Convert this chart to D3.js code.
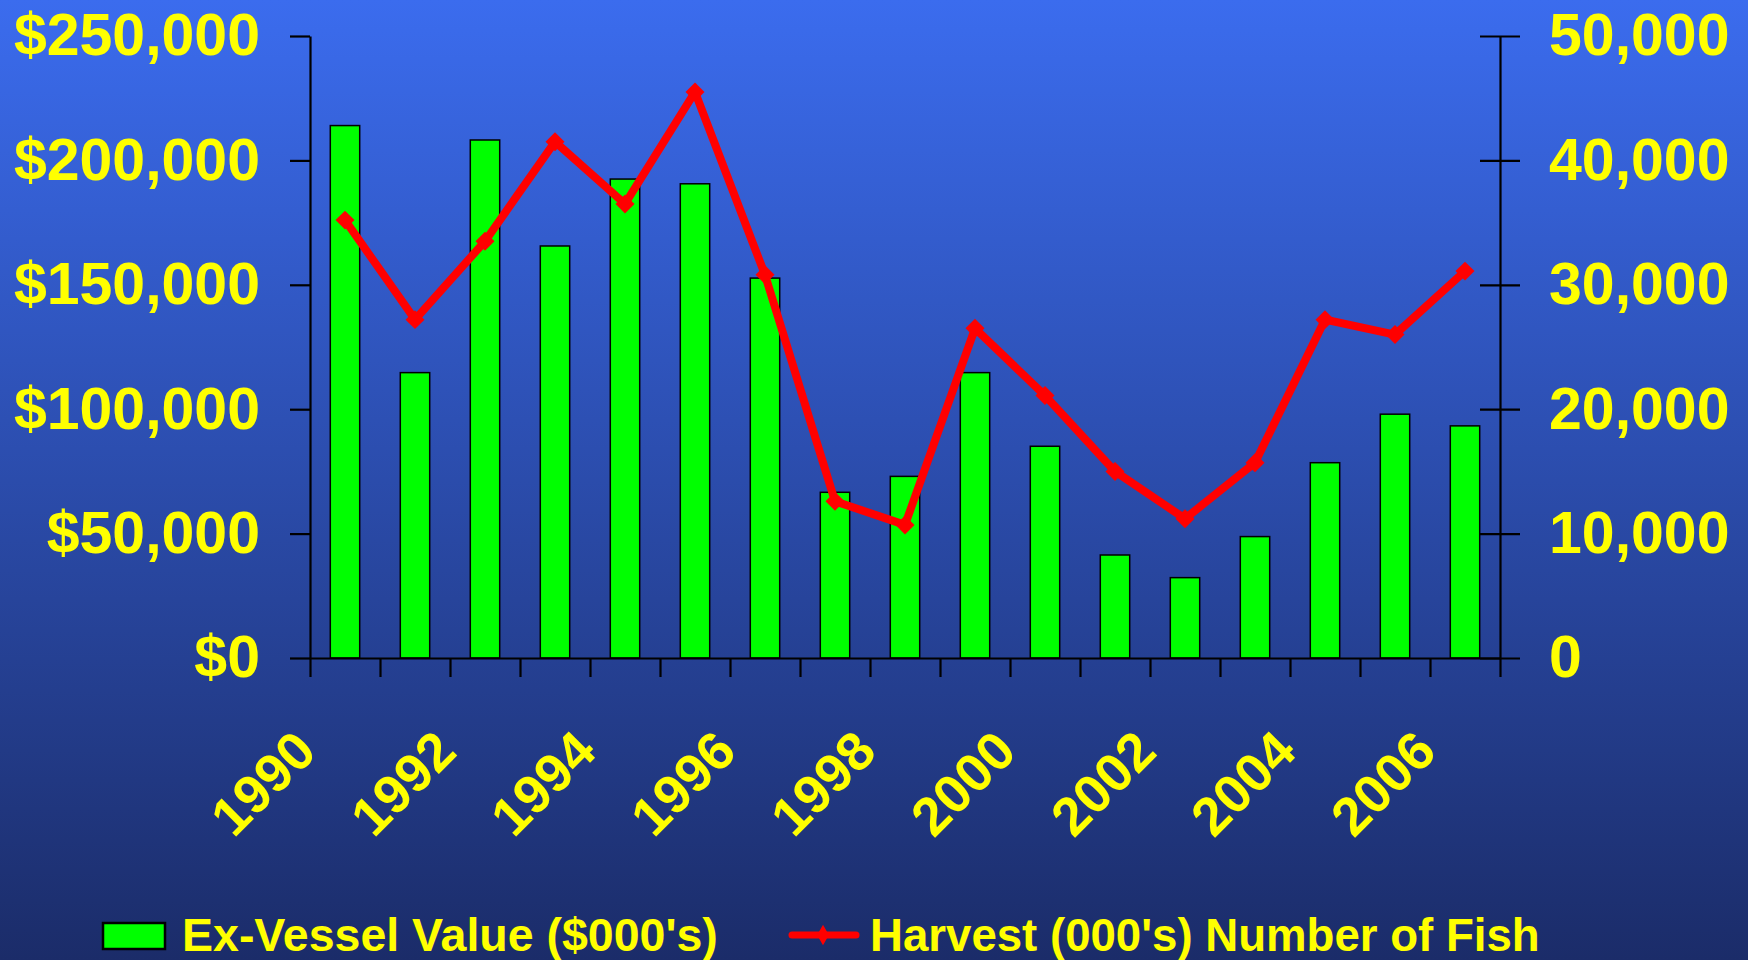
<!DOCTYPE html>
<html>
<head>
<meta charset="utf-8">
<script src="https://cdn.jsdelivr.net/npm/d3@7"></script>
<style>
  body { margin: 0; }
  text { font-family: "Liberation Sans", Arial, sans-serif; font-weight: bold; fill: #ffff00; }
</style>
</head>
<body>
<div id="chart-area"></div>
<script>
const years = ["1990", "1991", "1992", "1993", "1994", "1995", "1996", "1997", "1998",
  "1999", "2000", "2001", "2002", "2003", "2004", "2005", "2006"]
// Ex-Vessel Value ($000's)
const exVessel = [214000, 114700, 208200, 165600, 192500, 190600, 152700, 66600, 73000,
  114700, 85100, 41400, 32300, 48800, 78500, 98000, 93300]
// Harvest (000's) Number of Fish
const harvest = [35200, 27200, 33500, 41500, 36500, 45500, 30800, 12600, 10700,
  26500, 21100, 15000, 11200, 15700, 27200, 26000, 31100]
const yearLabels = ["1990", "1992", "1994", "1996", "1998", "2000", "2002", "2004", "2006"]
const leftTicks = [0, 50000, 100000, 150000, 200000, 250000]
const rightTicks = [0, 10000, 20000, 30000, 40000, 50000]

const W = 1748, H = 960
const PLOT = { LEFT: 310, RIGHT: 1500, TOP: 36, BOTTOM: 658 }

const svg = d3.select("#chart-area").append("svg")
  .attr("width", W)
  .attr("height", H)

// background gradient
const grad = svg.append("defs").append("linearGradient")
  .attr("id", "bg")
  .attr("x1", 0).attr("y1", 0).attr("x2", 0).attr("y2", 1)
grad.append("stop").attr("offset", "0%").attr("stop-color", "#3b6cee")
grad.append("stop").attr("offset", "100%").attr("stop-color", "#1b2c69")

svg.append("rect")
  .attr("width", W)
  .attr("height", H)
  .attr("fill", "url(#bg)")

const x = d3.scaleBand()
  .domain(years)
  .range([PLOT.LEFT, PLOT.RIGHT])
  .paddingInner(0.58)
  .paddingOuter(0.29)

// band edges for the category tick marks
const xEdge = d3.scaleLinear()
  .domain([0, years.length])
  .range([PLOT.LEFT, PLOT.RIGHT])

const yLeft = d3.scaleLinear()
  .domain([0, 250000])
  .range([PLOT.BOTTOM, PLOT.TOP])

const yRight = d3.scaleLinear()
  .domain([0, 50000])
  .range([PLOT.BOTTOM, PLOT.TOP])

// bars
svg.append("g").selectAll("rect")
  .data(years)
  .enter().append("rect")
    .attr("x", d => x(d))
    .attr("y", (d, i) => yLeft(exVessel[i]))
    .attr("width", x.bandwidth())
    .attr("height", (d, i) => PLOT.BOTTOM - yLeft(exVessel[i]))
    .attr("fill", "#00ff00")
    .attr("stroke", "#000")
    .attr("stroke-width", 1.5)

// x axis: ticks at band edges
svg.append("g")
  .attr("transform", `translate(0, ${PLOT.BOTTOM})`)
  .call(d3.axisBottom(xEdge)
    .tickValues(d3.range(years.length + 1))
    .tickSize(19)
    .tickSizeOuter(0)
    .tickFormat(""))
  .call(g => g.selectAll("line, path").attr("stroke", "#000").attr("stroke-width", 2.2))

// x labels, every other year, rotated
svg.append("g")
  .attr("transform", `translate(${x.bandwidth() / 2}, ${PLOT.BOTTOM})`)
  .call(d3.axisBottom(x).tickValues(yearLabels).tickSize(0))
  .call(g => g.select(".domain").remove())
  .selectAll("text")
    .attr("x", 0)
    .attr("y", 0)
    .attr("dy", 0)
    .attr("font-size", "54px")
    .attr("font-family", null)
    .attr("fill", "#ffff00")
    .attr("text-anchor", "end")
    .attr("transform", "translate(-41, 96) rotate(-45)")

// left axis
svg.append("g")
  .attr("transform", `translate(${PLOT.LEFT}, 0)`)
  .call(d3.axisLeft(yLeft)
    .tickValues(leftTicks)
    .tickSize(20)
    .tickSizeOuter(0)
    .tickPadding(30)
    .tickFormat(d => "$" + d3.format(",")(d)))
  .call(g => g.selectAll("line, path").attr("stroke", "#000").attr("stroke-width", 2.2))
  .call(g => g.selectAll("text")
    .attr("font-size", "59px")
    .attr("font-family", null)
    .attr("fill", "#ffff00")
    .attr("dy", "0.32em"))

// right axis, ticks cross the line
svg.append("g")
  .attr("transform", `translate(${PLOT.RIGHT}, 0)`)
  .call(d3.axisRight(yRight)
    .tickValues(rightTicks)
    .tickSize(20)
    .tickSizeOuter(0)
    .tickPadding(29)
    .tickFormat(d3.format(",")))
  .call(g => g.selectAll(".tick line").attr("x1", -20))
  .call(g => g.selectAll("line, path").attr("stroke", "#000").attr("stroke-width", 2.2))
  .call(g => g.selectAll("text")
    .attr("font-size", "59px")
    .attr("font-family", null)
    .attr("fill", "#ffff00")
    .attr("dy", "0.32em"))

// harvest line
const cx = d => x(d) + x.bandwidth() / 2
const line = d3.line()
  .x(d => cx(d))
  .y((d, i) => yRight(harvest[i]))

svg.append("path")
  .datum(years)
  .attr("d", line)
  .attr("fill", "none")
  .attr("stroke", "#ff0000")
  .attr("stroke-width", 8)
  .attr("stroke-linejoin", "miter")

const diamond = d3.symbol().type(d3.symbolSquare).size(180)
svg.append("g").selectAll("path")
  .data(years)
  .enter().append("path")
    .attr("d", diamond)
    .attr("transform", (d, i) => `translate(${cx(d)}, ${yRight(harvest[i])}) rotate(45)`)
    .attr("fill", "#ff0000")

// legend
const legend = svg.append("g")
legend.append("rect")
  .attr("x", 103).attr("y", 923)
  .attr("width", 62).attr("height", 26)
  .attr("fill", "#00ff00")
  .attr("stroke", "#000")
  .attr("stroke-width", 2.5)
legend.append("text")
  .attr("x", 182).attr("y", 951)
  .attr("font-size", "46.5px")
  .text("Ex-Vessel Value ($000's)")

legend.append("line")
  .attr("x1", 792).attr("x2", 856)
  .attr("y1", 935).attr("y2", 935)
  .attr("stroke", "#ff0000")
  .attr("stroke-width", 7)
  .attr("stroke-linecap", "round")
legend.append("path")
  .attr("d", d3.symbol().type(d3.symbolDiamond).size(120))
  .attr("transform", "translate(823, 935)")
  .attr("fill", "#ff0000")
legend.append("text")
  .attr("x", 870).attr("y", 951)
  .attr("font-size", "45.6px")
  .text("Harvest (000's) Number of Fish")
</script>
</body>
</html>
